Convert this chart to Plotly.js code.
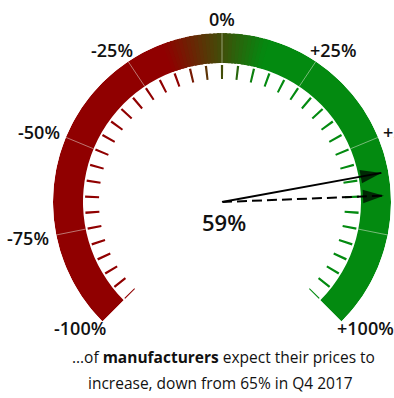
<!DOCTYPE html>
<html><head><meta charset="utf-8">
<script src="https://cdn.plot.ly/plotly-3.0.1.min.js"></script>
<style>html,body{margin:0;padding:0;background:#fff;overflow:hidden}</style>
</head><body><div id="chart" style="width:394px;height:398px"></div>
<script>
// ---- data ----
const scaleLabelValues = [-100, -75, -50, -25, 0, 25, 50, 75, 100];
const scaleLabelText = ['-100%', '-75%', '-50%', '-25%', '0%', '+25%', '+50%', '+75%', '+100%'];
const tickValues = [-100, -95, -90, -85, -80, -75, -70, -65, -60, -55, -50, -45, -40, -35, -30, -25, -20, -15, -10, -5, 0,
  5, 10, 15, 20, 25, 30, 35, 40, 45, 50, 55, 60, 65, 70, 75, 80, 85, 90, 95, 100];
const dividerValues = [-75, -50, -25, 0, 25, 50, 75];
const currentValue = 59;     // solid arrow
const previousValue = 65;    // dashed arrow (Q4 2017)
const valueLabel = '59%';
const captionLine1 = '…of <b>manufacturers</b> expect their prices to';
const captionLine2 = 'increase, down from 65% in Q4 2017';

// ---- styling / geometry helpers ----
const GAUGE_MIN = -100, GAUGE_MAX = 100, SWEEP = 270;
const DEG = SWEEP / (GAUGE_MAX - GAUGE_MIN);
const toTheta = v => v * DEG;
const RED = [144, 0, 0], GREEN = [3, 138, 16];
const GRAD_A = -15, GRAD_B = 12;
function colorAt(v) {
  let t = (v - GRAD_A) / (GRAD_B - GRAD_A); t = Math.max(0, Math.min(1, t));
  const c = RED.map((x, i) => Math.round(x + (GREEN[i] - x) * t));
  return 'rgb(' + c.join(',') + ')';
}
const R_OUT = 169, R_IN = 139, TICK_IN = 123, TICK_OUT = 137;
const LABEL_FONT = 18, LABEL_FAMILY = 'Open Sans', LABEL_WEIGHT = 600;
const W = 394, H = 398, CX = 222, CY = 202;

const canvas = document.createElement('canvas');
const ctx = canvas.getContext('2d');
ctx.font = LABEL_WEIGHT + ' ' + LABEL_FONT + 'px "' + LABEL_FAMILY + '"';

// band: solid red part, gradient part (1% slices), solid green part
const segC = [], segW = [], segCol = [];
segC.push((GAUGE_MIN + GRAD_A) / 2); segW.push((GRAD_A - GAUGE_MIN) * DEG); segCol.push(colorAt(GAUGE_MIN));
for (let v = GRAD_A; v < GRAD_B; v += 1) { segC.push(v + 0.5); segW.push(DEG * 1.6); segCol.push(colorAt(v + 0.5)); }
segC.push((GRAD_B + GAUGE_MAX) / 2); segW.push((GAUGE_MAX - GRAD_B) * DEG); segCol.push(colorAt(GAUGE_MAX));

const traces = [];
traces.push({
  type: 'barpolar', r: segC.map(() => R_OUT - R_IN), base: segC.map(() => R_IN),
  theta: segC.map(toTheta), width: segW,
  marker: {color: segCol, line: {width: 0}},
  hoverinfo: 'skip'
});
// tick marks
traces.push({
  type: 'barpolar', r: tickValues.map(() => TICK_OUT - TICK_IN), base: tickValues.map(() => TICK_IN),
  theta: tickValues.map(toTheta), width: tickValues.map(() => 0.95),
  marker: {color: tickValues.map(colorAt), line: {width: 0}},
  hoverinfo: 'skip'
});
// dividers
const dr = [], dt = [];
dividerValues.forEach(v => { dr.push(R_IN, R_OUT, null); dt.push(toTheta(v), toTheta(v), null); });
traces.push({type: 'scatterpolar', mode: 'lines', r: dr, theta: dt,
  line: {color: 'rgba(235,235,225,0.5)', width: 1}, hoverinfo: 'skip'});

// pointers
[[previousValue, '10px,5px'], [currentValue, 'solid']].forEach(([v, dash]) => {
  const t = toTheta(v);
  traces.push({type: 'scatterpolar', mode: 'lines+markers', r: [0, 162], theta: [t, t],
    line: {color: '#000', width: 2, dash: dash},
    marker: {symbol: ['circle', 'arrow'], size: [0, 22], angle: [0, t], color: '#000', line: {width: 0}},
    cliponaxis: false, hoverinfo: 'skip'});
});

// scale labels placed around the dial
const annotations = scaleLabelValues.map((v, i) => {
  const b = toTheta(v) * Math.PI / 180;
  const w = ctx.measureText(scaleLabelText[i]).width;
  const X = (183 + 0.35 * w) * Math.sin(b);
  const Y = 183 * Math.cos(b) + (Math.cos(b) < -0.5 ? 3 : 0);
  return {xref: 'paper', yref: 'paper', x: (CX + X) / W, y: 1 - (CY - Y) / H,
    xanchor: 'center', yanchor: 'middle', text: scaleLabelText[i], showarrow: false,
    font: {family: LABEL_FAMILY, size: LABEL_FONT, color: '#111', weight: LABEL_WEIGHT}};
});
annotations.push(
  {xref: 'paper', yref: 'paper', x: 223.5 / W, y: 1 - 221.5 / H, xanchor: 'center', yanchor: 'middle',
    text: valueLabel, showarrow: false, font: {family: LABEL_FAMILY, size: 22, color: '#111', weight: LABEL_WEIGHT}},
  {xref: 'paper', yref: 'paper', x: 223 / W, y: 1 - 357 / H, xanchor: 'center', yanchor: 'middle',
    text: captionLine1, showarrow: false, font: {family: 'Open Sans', size: 15.5, color: '#111'}},
  {xref: 'paper', yref: 'paper', x: 221 / W, y: 1 - 383 / H, xanchor: 'center', yanchor: 'middle',
    text: captionLine2, showarrow: false, font: {family: 'Open Sans', size: 15.5, color: '#111'}}
);

const bboxH = R_OUT * (1 + Math.SQRT1_2);
const layout = {
  width: W, height: H, margin: {l: 0, r: 0, t: 0, b: 0},
  paper_bgcolor: '#fff', showlegend: false,
  polar: {
    domain: {x: [(CX - R_OUT) / W, (CX + R_OUT) / W], y: [1 - (CY - R_OUT + bboxH) / H, 1 - (CY - R_OUT) / H]},
    sector: [-45, 225], bgcolor: 'rgba(0,0,0,0)',
    radialaxis: {range: [0, R_OUT], showline: false, showgrid: false, showticklabels: false, ticks: ''},
    angularaxis: {rotation: 90, direction: 'clockwise', thetaunit: 'degrees', showline: false,
      showgrid: false, showticklabels: false, ticks: ''}
  },
  annotations: annotations
};
Plotly.newPlot('chart', traces, layout, {displayModeBar: false, staticPlot: true});
</script></body></html>
